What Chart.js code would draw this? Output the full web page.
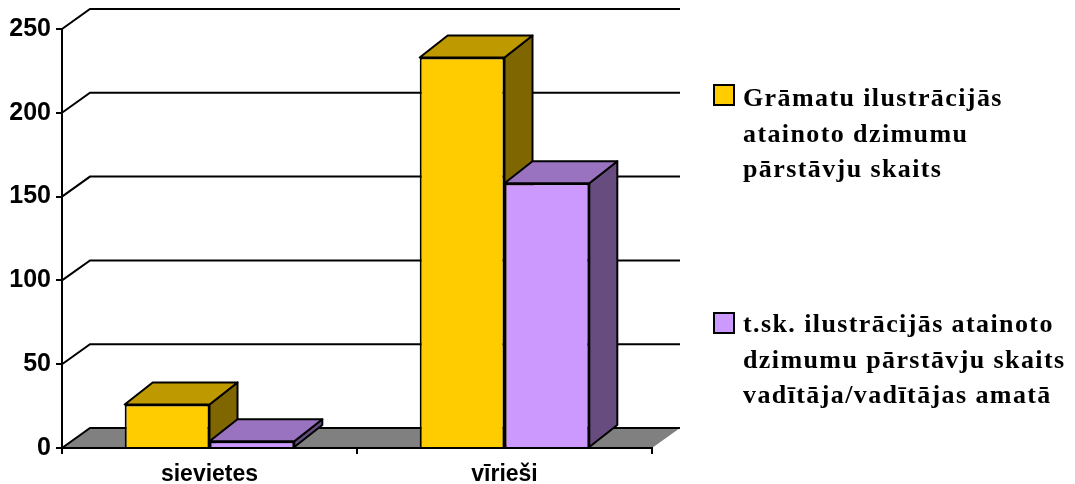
<!DOCTYPE html>
<html>
<head>
<meta charset="utf-8">
<style>
  html, body { margin: 0; padding: 0; background: #fff; }
  canvas { display: block; }
</style>
<script src="https://cdn.jsdelivr.net/npm/chart.js@4"></script>
</head>
<body>
<canvas id="chart" width="1075" height="484"></canvas>
<script>
const categories = ['sievietes', 'vīrieši'];
const gramatuValues = [26, 233];
const vaditajuValues = [4, 158];
const yTicks = [0, 50, 100, 150, 200, 250];
const gramatuLegend = ['Grāmatu ilustrācijās', 'atainoto dzimumu', 'pārstāvju skaits'];
const vaditajuLegend = ['t.sk. ilustrācijās atainoto', 'dzimumu pārstāvju skaits', 'vadītāja/vadītājas amatā'];

const depthX = 28;
const floorDepthY = 20;
const barDepthY = 22;

const colors = [
    { front: '#FFCC00', top: '#BF9900', side: '#7F6600' },
    { front: '#CC99FF', top: '#9973BF', side: '#664C7F' }
];

function poly(ctx, points, fill) {
    ctx.beginPath();
    points.forEach((p, i) => i ? ctx.lineTo(p[0], p[1]) : ctx.moveTo(p[0], p[1]));
    ctx.closePath();
    if (fill) {
        ctx.fillStyle = fill;
        ctx.fill();
    }
    ctx.stroke();
}

// back wall grid and grey floor
const wallPlugin = {
    id: 'wall',
    beforeDraw(chart) {
        const ctx = chart.ctx;
        const { left, right } = chart.chartArea;
        const y = chart.scales.y;
        ctx.save();
        ctx.strokeStyle = '#000';
        ctx.lineWidth = 2;
        const y0 = y.getPixelForValue(0);
        // floor has no outline on its right edge
        ctx.beginPath();
        ctx.moveTo(left, y0);
        ctx.lineTo(left + depthX, y0 - floorDepthY);
        ctx.lineTo(right + depthX, y0 - floorDepthY);
        ctx.lineTo(right, y0);
        ctx.closePath();
        ctx.fillStyle = '#808080';
        ctx.fill();
        yTicks.forEach(t => {
            const py = y.getPixelForValue(t);
            ctx.beginPath();
            ctx.moveTo(left, py);
            ctx.lineTo(left + depthX, py - floorDepthY);
            ctx.lineTo(right + depthX, py - floorDepthY);
            ctx.stroke();
        });
        ctx.restore();
    }
};

// top and side faces of the bars, the fronts are the library's own bars
const depthPlugin = {
    id: 'depth',
    beforeDatasetsDraw(chart) {
        const ctx = chart.ctx;
        ctx.save();
        ctx.strokeStyle = '#000';
        ctx.lineWidth = 2;
        ctx.lineJoin = 'round';
        chart.data.datasets.forEach((ds, d) => {
            chart.getDatasetMeta(d).data.forEach(bar => {
                const l = bar.x - bar.width / 2;
                const r = bar.x + bar.width / 2;
                const t = bar.y;
                const b = bar.base;
                poly(ctx, [[r, t], [r + depthX, t - barDepthY], [r + depthX, b - barDepthY], [r, b]], colors[d].side);
                poly(ctx, [[l, t], [l + depthX, t - barDepthY], [r + depthX, t - barDepthY], [r, t]], colors[d].top);
            });
        });
        ctx.restore();
    }
};

const legendPlugin = {
    id: 'sideLegend',
    afterDraw(chart) {
        const ctx = chart.ctx;
        const blocks = [
            { lines: gramatuLegend, box: 85, base: 106 },
            { lines: vaditajuLegend, box: 313, base: 332 }
        ];
        ctx.save();
        blocks.forEach((b, i) => {
            ctx.fillStyle = colors[i].front;
            ctx.strokeStyle = '#000';
            ctx.lineWidth = 2;
            ctx.fillRect(714, b.box, 20, 20);
            ctx.strokeRect(714, b.box, 20, 20);
            ctx.fillStyle = '#000';
            ctx.font = 'bold 26px "Liberation Serif"';
            ctx.letterSpacing = '1.4px';
            ctx.textBaseline = 'alphabetic';
            b.lines.forEach((line, n) => ctx.fillText(line, 743, b.base + n * 35.5));
        });
        ctx.restore();
    }
};

new Chart(document.getElementById('chart'), {
    type: 'bar',
    data: {
        labels: categories,
        datasets: [
            {
                label: gramatuLegend.join(' '),
                data: gramatuValues,
                backgroundColor: colors[0].front
            },
            {
                label: vaditajuLegend.join(' '),
                data: vaditajuValues,
                backgroundColor: colors[1].front
            }
        ]
    },
    options: {
        responsive: false,
        animation: false,
        events: [],
        layout: {
            padding: { left: 0, top: 29, right: 423, bottom: 0 }
        },
        elements: {
            bar: {
                borderColor: '#000',
                borderWidth: 2,
                borderSkipped: 'bottom'
            }
        },
        datasets: {
            bar: {
                barPercentage: 1,
                categoryPercentage: 0.575
            }
        },
        scales: {
            x: {
                afterFit: scale => { scale.height = 36; },
                border: { color: '#000', width: 2, z: 1 },
                grid: {
                    drawOnChartArea: false,
                    color: '#000',
                    lineWidth: 2,
                    tickLength: 6
                },
                ticks: {
                    color: '#000',
                    maxRotation: 0,
                    padding: 7,
                    font: { family: 'Liberation Sans', weight: 'bold', size: 23 }
                }
            },
            y: {
                min: 0,
                max: 250,
                afterFit: scale => { scale.width = 62; },
                afterBuildTicks: scale => { scale.ticks = yTicks.map(value => ({ value })); },
                border: { color: '#000', width: 2 },
                grid: {
                    drawOnChartArea: false,
                    color: '#000',
                    lineWidth: 2,
                    tickLength: 6
                },
                ticks: {
                    color: '#000',
                    padding: 5,
                    font: { family: 'Liberation Sans', weight: 'bold', size: 25 }
                }
            }
        },
        plugins: {
            legend: { display: false },
            tooltip: { enabled: false }
        }
    },
    plugins: [wallPlugin, depthPlugin, legendPlugin]
});
</script>
</body>
</html>
